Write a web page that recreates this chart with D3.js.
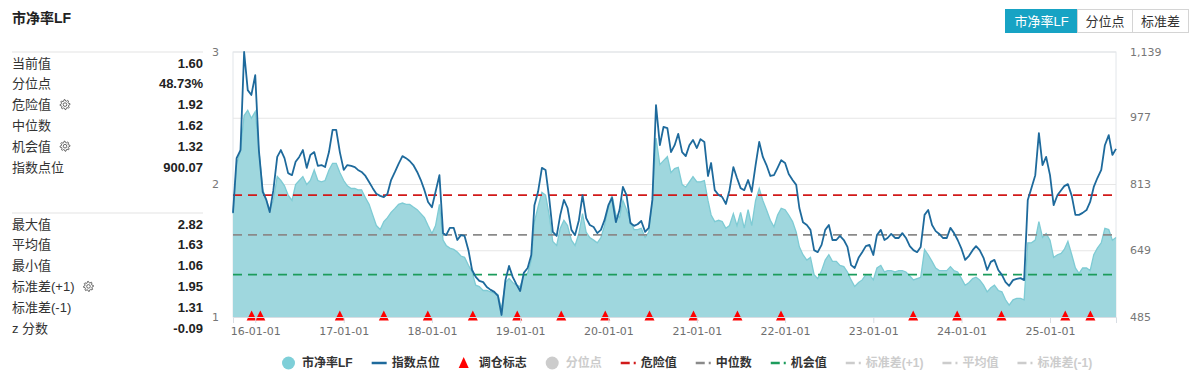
<!DOCTYPE html>
<html>
<head>
<meta charset="utf-8">
<script src="https://cdn.jsdelivr.net/npm/d3@7"></script>
<style>
body { margin: 0; background: #fff; }
text { font-family: "Liberation Sans", "Noto Sans CJK SC", sans-serif; }
</style>
</head>
<body>
<svg id="chart" width="1200" height="390"></svg>
<script>
// PB (left axis), sampled on the 1st and 16th of every month from 2015-10-01
var pbValues = [
  1.78, 2.15, 2.26, 2.52, 2.56, 2.50, 2.55, 2.26, 1.96, 1.88,
  1.81, 1.88, 2.06, 2.03, 1.99, 1.92, 1.88, 2.00, 2.03, 2.06,
  2.00, 2.03, 2.11, 2.03, 2.02, 2.03, 2.11, 2.16, 2.16, 2.09,
  2.03, 1.99, 1.97, 1.97, 1.96, 1.96, 1.90, 1.85, 1.77, 1.69,
  1.66, 1.72, 1.75, 1.79, 1.82, 1.85, 1.86, 1.85, 1.85, 1.83,
  1.81, 1.78, 1.75, 1.69, 1.63, 1.69, 1.85, 1.58, 1.54, 1.52,
  1.51, 1.49, 1.46, 1.45, 1.39, 1.34, 1.24, 1.23, 1.20, 1.20,
  1.19, 1.18, 1.17, 1.06, 1.26, 1.29, 1.26, 1.24, 1.23, 1.31,
  1.33, 1.43, 1.72, 1.83, 1.94, 1.92, 1.77, 1.57, 1.54, 1.67,
  1.73, 1.69, 1.58, 1.54, 1.63, 1.78, 1.64, 1.60, 1.58, 1.56,
  1.60, 1.69, 1.83, 1.92, 1.77, 1.75, 1.88, 1.81, 1.72, 1.66,
  1.66, 1.67, 1.60, 1.64, 1.88, 2.35, 2.15, 2.18, 2.21, 2.09,
  2.12, 2.13, 2.00, 1.98, 2.02, 2.06, 2.02, 2.02, 2.03, 1.88,
  1.77, 1.72, 1.73, 1.72, 1.67, 1.69, 1.78, 1.69, 1.79, 1.67,
  1.81, 1.69, 1.88, 1.97, 1.88, 1.81, 1.73, 1.68, 1.77, 1.82,
  1.81, 1.77, 1.72, 1.64, 1.53, 1.47, 1.43, 1.45, 1.32, 1.29,
  1.35, 1.43, 1.47, 1.42, 1.42, 1.39, 1.38, 1.34, 1.28, 1.23,
  1.26, 1.28, 1.32, 1.32, 1.28, 1.37, 1.39, 1.34, 1.35, 1.35,
  1.34, 1.35, 1.35, 1.34, 1.31, 1.28, 1.29, 1.30, 1.51, 1.47,
  1.42, 1.37, 1.35, 1.35, 1.35, 1.38, 1.35, 1.34, 1.29, 1.24,
  1.26, 1.29, 1.30, 1.28, 1.24, 1.19, 1.22, 1.24, 1.20, 1.19,
  1.13, 1.09, 1.13, 1.14, 1.14, 1.13, 1.56, 1.56, 1.58, 1.72,
  1.60, 1.63, 1.58, 1.45, 1.47, 1.48, 1.51, 1.57, 1.47, 1.37,
  1.33, 1.37, 1.37, 1.35, 1.47, 1.52, 1.56, 1.67, 1.66, 1.58,
  1.60
];

// index level (right axis), same dates
var indexValues = [
  742, 877, 897, 1139, 1045, 1033, 1082, 897, 794, 774,
  744, 798, 880, 897, 877, 840, 835, 868, 880, 897,
  853, 885, 892, 858, 860, 855, 892, 947, 947, 892,
  848, 860, 858, 855, 848, 843, 833, 818, 803, 789,
  784, 781, 789, 823, 843, 863, 882, 877, 870, 860,
  843, 823, 798, 769, 756, 794, 835, 692, 687, 705,
  705, 675, 687, 685, 650, 601, 584, 574, 571, 559,
  552, 547, 537, 490, 576, 611, 584, 566, 549, 594,
  606, 638, 761, 794, 853, 848, 779, 695, 685, 737,
  774, 754, 700, 687, 724, 786, 729, 712, 707, 692,
  700, 724, 761, 779, 719, 749, 806, 786, 717, 710,
  714, 722, 695, 705, 774, 1008, 909, 954, 951, 892,
  909, 937, 892, 882, 909, 922, 902, 924, 917, 833,
  865, 798, 786, 781, 764, 798, 855, 828, 803, 798,
  823, 794, 860, 917, 880, 860, 833, 835, 853, 872,
  865, 838, 823, 811, 754, 719, 712, 700, 650, 645,
  663, 700, 712, 675, 675, 685, 675, 658, 613, 606,
  631, 645, 660, 663, 638, 687, 700, 675, 680, 690,
  680, 680, 692, 680, 660, 650, 645, 658, 737, 749,
  712, 697, 690, 680, 680, 705, 692, 675, 653, 626,
  636, 650, 660, 650, 631, 601, 621, 626, 601, 589,
  571, 562, 576, 579, 581, 576, 774, 803, 835, 939,
  860, 880, 835, 761, 786, 798, 808, 813, 784, 737,
  737, 742, 749, 769, 806, 828, 848, 909, 934, 885,
  900
];

var rebalanceDates = [
  "2015-12-17", "2016-01-22", "2016-12-16", "2017-06-16", "2017-12-15",
  "2018-06-19", "2018-12-20", "2019-06-20", "2019-12-19", "2020-06-19",
  "2020-12-18", "2021-06-18", "2021-12-15", "2023-06-15", "2023-12-14",
  "2024-06-14", "2025-03-05", "2025-06-17"
];

var xTickDates = ["2016-01-01", "2017-01-01", "2018-01-01", "2019-01-01", "2020-01-01",
  "2021-01-01", "2022-01-01", "2023-01-01", "2024-01-01", "2025-01-01"];
var leftTicks = [1, 1.5, 2, 2.5, 3];
var rightTicks = [485, 649, 813, 977, 1139];

var dangerValue = 1.92, medianValue = 1.62, chanceValue = 1.32;

var statLabelsTop = ["当前值", "分位点", "危险值", "中位数", "机会值", "指数点位"];
var statValuesTop = ["1.60", "48.73%", "1.92", "1.62", "1.32", "900.07"];
var statLabelsBottom = ["最大值", "平均值", "最小值", "标准差(+1)", "标准差(-1)", "z 分数"];
var statValuesBottom = ["2.82", "1.63", "1.06", "1.95", "1.31", "-0.09"];
var gearLabels = ["危险值", "机会值", "标准差(+1)"];

var buttonNames = ["市净率LF", "分位点", "标准差"];

var legendNames = ["市净率LF", "指数点位", "调仓标志", "分位点", "危险值", "中位数", "机会值", "标准差(+1)", "平均值", "标准差(-1)"];
var legendShapes = ["circle", "line", "triangle", "circle", "dash", "dash", "dash", "dash", "dash", "dash"];
var legendColors = ["#7ecfd8", "#1e6a9c", "#ff0000", "#cccccc", "#d11a1a", "#8a8a8a", "#1c9c5c", "#cccccc", "#cccccc", "#cccccc"];
var legendOn = [true, true, true, false, true, true, true, false, false, false];

var parseDate = d3.timeParse("%Y-%m-%d");
var dates = pbValues.map(function(v, i) { return new Date(2015, 9 + Math.floor(i / 2), i % 2 ? 16 : 1); });
var series = dates.map(function(d, i) { return {date: d, pb: pbValues[i], idx: indexValues[i]}; });

var svg = d3.select("#chart"),
    margin = {top: 52, right: 84, bottom: 73, left: 233},
    width = +svg.attr("width") - margin.left - margin.right,
    height = +svg.attr("height") - margin.top - margin.bottom,
    g = svg.append("g").attr("transform", "translate(" + margin.left + "," + margin.top + ")");

var x = d3.scaleTime()
    .domain([new Date(2015, 9, 1), new Date(2025, 9, 1)])
    .range([0, width]);
var yL = d3.scaleLinear().domain([1, 3]).range([height, 0]);
var yR = d3.scaleLinear().domain([485, 1139]).range([height, 0]);

// title
svg.append("text").attr("x", 12).attr("y", 23)
    .style("font-size", "14px").style("font-weight", "bold").attr("fill", "#222")
    .text("市净率LF");

// buttons
var btn = svg.append("g").attr("transform", "translate(1005,9)");
var bx = 0, bwidths = [72, 55, 56];
buttonNames.forEach(function(name, i) {
  btn.append("rect").attr("x", bx + 0.5).attr("y", 0.5).attr("width", bwidths[i]).attr("height", 23)
      .attr("fill", i === 0 ? "#17a3c4" : "#fff").attr("stroke", i === 0 ? "#17a3c4" : "#d4d4d4");
  btn.append("text").attr("x", bx + bwidths[i] / 2 + 0.5).attr("y", 17)
      .attr("text-anchor", "middle").style("font-size", "13px")
      .attr("fill", i === 0 ? "#fff" : "#333").text(name);
  bx += bwidths[i];
});

// stats panel
function gear(sel, cx, cy) {
  var pts = d3.range(32).map(function(k) {
    return [k / 32 * 2 * Math.PI, (Math.floor((k + 1) / 2) % 2) ? 3.6 : 5];
  });
  sel.append("path").attr("transform", "translate(" + cx + "," + cy + ")")
      .attr("d", d3.lineRadial().curve(d3.curveLinearClosed)(pts))
      .attr("fill", "none").attr("stroke", "#666").attr("stroke-width", 1);
  sel.append("circle").attr("cx", cx).attr("cy", cy).attr("r", 1.8)
      .attr("fill", "none").attr("stroke", "#666").attr("stroke-width", 1);
}

function statBlock(top, labels, values) {
  svg.append("line").attr("x1", 12).attr("x2", 203).attr("y1", top).attr("y2", top)
      .attr("stroke", "#e3e3e3");
  labels.forEach(function(lab, i) {
    var cy = top + 11 + i * 20.8;
    var t = svg.append("text").attr("x", 12).attr("y", cy).attr("dy", "0.36em")
        .style("font-size", "13px").attr("fill", "#333").text(lab);
    svg.append("text").attr("x", 203).attr("y", cy).attr("dy", "0.36em")
        .attr("text-anchor", "end").style("font-size", "13px").style("font-weight", "bold")
        .attr("fill", "#222").text(values[i]);
    if (gearLabels.indexOf(lab) >= 0) gear(svg, 12 + t.node().getComputedTextLength() + 14, cy);
  });
}
statBlock(52, statLabelsTop, statValuesTop);
statBlock(213, statLabelsBottom, statValuesBottom);

// grid
g.append("g").selectAll("line")
  .data(leftTicks)
  .enter().append("line")
    .attr("x1", 0).attr("x2", width)
    .attr("y1", function(d) { return yL(d); }).attr("y2", function(d) { return yL(d); })
    .attr("stroke", "#e6e6e6");

g.append("rect").attr("width", width).attr("height", height)
    .attr("fill", "none").attr("stroke", "#e2e6ea");

// pb area
var area = d3.area()
    .x(function(d) { return x(d.date); })
    .y0(height)
    .y1(function(d) { return yL(d.pb); });
g.append("path").datum(series).attr("d", area).attr("fill", "#9fd7de");
g.append("path").datum(series)
    .attr("d", d3.line().x(function(d) { return x(d.date); }).y(function(d) { return yL(d.pb); }))
    .attr("fill", "none").attr("stroke", "#7ecbd4").attr("stroke-width", 1.3);

// reference lines
[[dangerValue, "#d11a1a"], [medianValue, "#8a8a8a"], [chanceValue, "#1c9c5c"]].forEach(function(r) {
  g.append("line").attr("x1", 0).attr("x2", width)
      .attr("y1", yL(r[0])).attr("y2", yL(r[0]))
      .attr("stroke", r[1]).attr("stroke-width", 1.8).attr("stroke-dasharray", "9,6");
});

// index line
g.append("path").datum(series)
    .attr("d", d3.line().x(function(d) { return x(d.date); }).y(function(d) { return yR(d.idx); }))
    .attr("fill", "none").attr("stroke", "#1e6a9c").attr("stroke-width", 1.8)
    .attr("stroke-linejoin", "round");

// rebalance markers
g.append("g").selectAll("path")
  .data(rebalanceDates)
  .enter().append("path")
    .attr("transform", function(d) { return "translate(" + x(parseDate(d)) + "," + (height - 1) + ")"; })
    .attr("d", "M0,-5.5L5,4.5L-5,4.5Z")
    .attr("fill", "#ff0000");

// x axis
var xAxis = g.append("g").attr("transform", "translate(0," + height + ")")
    .call(d3.axisBottom(x)
      .tickValues(xTickDates.map(parseDate))
      .tickFormat(d3.timeFormat("%y-%m-%d"))
      .tickSize(6).tickPadding(4));
xAxis.select(".domain").attr("stroke", "#d8dde3");
xAxis.selectAll(".tick line").attr("stroke", "#d8dde3");
xAxis.selectAll("text").attr("fill", "#6e6e6e")
    .style("font-family", "'DejaVu Sans', sans-serif").style("font-size", "11px");

// left labels
g.append("g").selectAll("text")
  .data(leftTicks.filter(function(d) { return d % 1 === 0; }))
  .enter().append("text")
    .attr("x", -14).attr("y", function(d) { return yL(d); }).attr("dy", "0.35em")
    .attr("text-anchor", "end").attr("fill", "#777")
    .style("font-family", "'DejaVu Sans', sans-serif").style("font-size", "11px")
    .text(function(d) { return d; });

// right labels
g.append("g").selectAll("text")
  .data(rightTicks)
  .enter().append("text")
    .attr("x", width + 14).attr("y", function(d) { return yR(d); }).attr("dy", "0.35em")
    .attr("fill", "#777")
    .style("font-family", "'DejaVu Sans', sans-serif").style("font-size", "11px")
    .text(function(d) { return d3.format(",")(d); });

// legend
var lx = 282;
legendNames.forEach(function(name, i) {
  var item = svg.append("g").attr("transform", "translate(" + lx + ",363)");
  var c = legendColors[i];
  if (legendShapes[i] === "circle") {
    item.append("circle").attr("cx", 6.5).attr("cy", 0).attr("r", 6.5).attr("fill", c);
  } else if (legendShapes[i] === "line") {
    item.append("line").attr("x1", 0).attr("x2", 15).attr("stroke", c).attr("stroke-width", 2.5);
  } else if (legendShapes[i] === "triangle") {
    item.append("path").attr("d", "M5,-6L10,5L0,5Z").attr("fill", c);
  } else {
    item.append("line").attr("x1", 0).attr("x2", 15).attr("stroke", c).attr("stroke-width", 2.5)
        .attr("stroke-dasharray", "9,4,2,10");
  }
  var t = item.append("text").attr("x", 20).attr("dy", "0.36em")
      .style("font-size", "12px").style("font-weight", "bold")
      .attr("fill", legendOn[i] ? "#333" : "#cccccc").text(name);
  lx += 20 + t.node().getComputedTextLength() + 19;
});
</script>
</body>
</html>
